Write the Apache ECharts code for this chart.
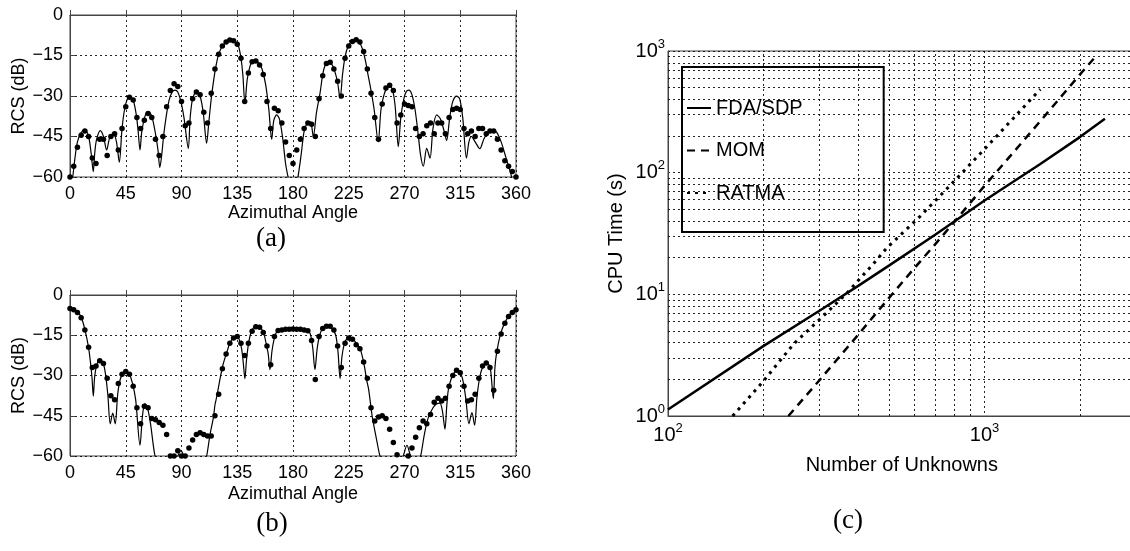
<!DOCTYPE html>
<html><head><meta charset="utf-8">
<script src="https://cdn.jsdelivr.net/npm/echarts@6/dist/echarts.min.js"></script>
<style>html,body{margin:0;padding:0;background:#fff}#c{width:1130px;height:551px}</style>
</head><body><div id="c"></div>
<script>
// ---------- data ----------
const dotAngles = [0,3,6,9,12,15,18,21,24,27,30,33,36,39,42,45,48,51,54,57,60,63,66,69,72,75,78,81,84,87,90,93,96,99,102,105,108,111,114,117,120,123,126,129,132,135,138,141,144,147,150,153,156,159,162,165,168,171,174,177,180,183,186,189,192,195,198,201,204,207,210,213,216,219,222,225,228,231,234,237,240,243,246,249,252,255,258,261,264,267,270,273,276,279,282,285,288,291,294,297,300,303,306,309,312,315,318,321,324,327,330,333,336,339,342,345,348,351,354,357,360];

const rcsADots = [-60,-56,-49,-44.5,-43,-45,-53,-55,-46,-46,-52,-45,-44,-50,-42,-34,-30.5,-31.5,-38,-42,-39,-36.5,-38,-46,-52,-45,-34,-28,-25.5,-26.5,-32,-41,-40,-31,-28.5,-29.5,-36,-40,-29,-20,-14.5,-11.5,-10,-9.3,-9.5,-10.8,-16,-32,-21.5,-17.3,-17,-18.5,-22,-32,-42,-34.5,-35.5,-40,-47,-52,-55,-50,-46,-42,-40,-40.5,-45,-31,-22.5,-18,-17.5,-20,-24.5,-30,-16,-11.5,-9.8,-9.2,-10,-13.5,-20,-29,-38,-46,-33,-27,-26,-28,-40,-37,-33,-33.5,-34,-42,-45,-44,-41,-40,-44,-40,-40,-44,-38,-35,-34.5,-35,-42,-44,-43,-45,-42,-42,-44,-43,-43,-46,-50,-54,-56,-58,-60];

const rcsBDots = [-5,-5.5,-6.5,-8.5,-13,-19.5,-27,-26.5,-24.5,-25.5,-31,-37.5,-39,-33,-29.5,-28.5,-29.5,-34,-42,-48,-41.5,-42,-46,-46.5,-47.5,-48.5,-52,-60,-60,-58,-60,-60,-57,-54,-52,-51.3,-52,-52.5,-52.5,-45,-37,-27.5,-22,-18,-16,-15.5,-18,-22.5,-18,-13.5,-11.8,-12,-14,-19,-26,-15.5,-13.2,-13,-12.8,-12.8,-12.7,-12.8,-12.8,-13,-13.3,-17,-31.5,-15.5,-12.5,-11.6,-11.6,-13,-19,-27,-18,-16,-16.5,-18.5,-20,-25,-31,-42,-47,-45.5,-45,-46,-50,-55,-59.5,-61,-61,-60,-57,-53,-49.5,-47,-48,-44.5,-40,-38.5,-39.5,-38.5,-34,-30,-28,-29,-34,-39.5,-39,-37,-31,-26.5,-25.3,-27,-35.5,-21,-14.5,-10.5,-8,-6.5,-5.5];

const rcsALine = [[1,-63],[2.2,-60],[4,-53],[6,-47],[9,-43.5],[12,-42.5],[15,-45],[17,-51],[18.8,-58],[20,-51],[21.5,-46],[24.5,-42.8],[27,-45],[29.6,-50],[32,-45.5],[35,-43.8],[37.5,-47],[39.8,-54.5],[42,-42],[44,-35],[46,-31.5],[48.4,-30.3],[51,-31.5],[53.5,-37],[55,-43],[56.5,-50],[58,-43],[61,-36.8],[63.2,-35.8],[66,-37.5],[69,-44],[71,-50],[72.5,-56.5],[74,-52],[75.5,-45],[77.5,-38],[80,-31.5],[82.5,-28.5],[84.7,-27.8],[87,-28.5],[89.5,-32],[92,-38],[95.5,-49.4],[97,-38],[99,-31],[102.2,-28.2],[105,-30],[107.5,-36],[110.3,-47.5],[112,-40],[114,-31],[116,-24],[118,-18.5],[120,-14.5],[123,-11.5],[127,-9.7],[130.5,-9.2],[134,-10],[136,-11.5],[138,-16],[139.5,-22],[141.2,-32.7],[143,-24],[145,-19.5],[147,-17.2],[149.3,-16.7],[152,-17.5],[155,-20],[158,-26],[160.5,-35],[162.8,-46],[164.5,-39],[166.8,-37],[169,-38.5],[171.5,-45],[174,-55],[176,-60],[178,-64],[182,-64],[184,-60],[186.5,-52],[189,-43],[191.5,-40],[193.7,-39.5],[195,-41],[196.4,-45],[199,-36],[201.8,-29],[204,-22],[206,-18.5],[208.5,-17.3],[211,-18],[213.5,-20.5],[216,-25],[218,-30.9],[220,-22],[222,-15.5],[224.5,-11.5],[227,-9.8],[230,-9.0],[233,-9.8],[236,-12.5],[238.5,-17],[240.5,-22],[243,-28],[245.5,-35],[248.8,-47],[251,-35],[253.5,-29.5],[256,-27],[258.3,-26.5],[260.5,-28],[262.5,-34],[265,-48.8],[267,-38],[269.5,-31],[271.5,-28.3],[273.5,-27.8],[276,-29.5],[278.5,-35],[281,-44],[283,-52],[285.2,-56],[287.9,-49.4],[290.6,-53],[293,-42],[296,-37],[299,-38.5],[302,-43],[304,-46.5],[306.5,-38],[309,-32],[312,-30],[314.5,-31],[317,-38],[320,-53],[322,-47],[324,-45],[327,-47],[330.8,-49.5],[334,-46],[338,-43],[341.7,-42.6],[344.5,-43.5],[348,-47],[352,-53],[356.5,-60],[358,-64]];

const rcsBLine = [[0,-5],[4,-5.8],[8.1,-7.4],[10,-9.5],[12.1,-13],[14.8,-19.1],[16.5,-25],[17.8,-31],[18.8,-37.7],[20,-30],[22,-25.5],[24.2,-24.2],[26.5,-25],[28.5,-29],[30.5,-37],[32.5,-48],[34.5,-44],[36.5,-48],[38.5,-37],[40.5,-31.5],[43,-29],[45.7,-28.5],[48,-29.5],[50.5,-33],[53,-39],[56.5,-56],[58.5,-45],[60.5,-40.5],[62.5,-42],[65,-48],[68.6,-60],[72,-64],[84,-63],[87,-60],[89.5,-58],[92,-60],[95,-63],[108,-63],[110.3,-60],[113,-52],[115.7,-45.8],[117,-41],[118.4,-38],[121,-31.5],[123.5,-26],[126.4,-21.6],[129,-18],[131.8,-16],[134.5,-15.4],[136.5,-16.5],[138.5,-20],[139.8,-25],[141.2,-31.2],[142.5,-24],[144.5,-17],[147,-13],[150.7,-11.5],[154,-12.3],[156.5,-14.5],[158.5,-18.5],[160,-22],[161.4,-27.8],[163,-21],[164.5,-17],[166.5,-14],[169.5,-13],[175,-12.8],[180.3,-12.7],[186,-12.8],[192.4,-13.3],[194.5,-15.5],[196,-20],[197.7,-27.8],[199.5,-20],[201.5,-15],[204,-12.5],[208.5,-11.5],[212,-12.7],[214.5,-15],[216.3,-21],[218,-31.2],[219.5,-23],[221.5,-18],[223.5,-16.3],[226,-16],[229,-16.8],[232,-18.5],[234,-19.8],[236,-23],[237.8,-27],[239.5,-31.8],[241,-35],[243.6,-44.2],[245,-48],[247.5,-54],[250.2,-60],[253,-63],[266,-63],[269,-60],[272,-56],[275,-60],[280,-63],[283,-60],[286,-52],[289,-46],[293,-42],[296,-40.5],[298.6,-40.3],[300.5,-43],[302.7,-50],[304,-42],[305.3,-35.6],[307.5,-31.5],[310,-29],[312.6,-28.3],[316,-30],[318,-34],[319.6,-39],[322,-48],[324.4,-43.8],[326.6,-48.5],[328.5,-38],[331,-30],[333.5,-26.5],[335.8,-25.1],[338,-25.8],[339.5,-28],[341.7,-38.6],[343,-27],[344.4,-21.4],[347.1,-15.2],[349,-12.5],[351,-10.3],[355,-7.2],[357.8,-6.3],[360,-5.6]];

const fdaN = [100,200,300,400,500,700,1000,1500,2000,2400];
const fdaT = [1.13,3.75,7.3,11.8,17.3,31,59,118,196,278];
const momN = [240,300,400,500,600,700,800,1000,1500,2000,2250];
const momT = [1.0,1.95,4.7,9.4,16.4,26,39,78,265,640,910];
const ratN = [160,198,250,303,367,446,490,627,798,1069,1500];
const ratT = [1.0,1.87,3.94,6.3,10.2,17.9,23.9,44,84,188,485];

const minorX = [200,300,400,500,600,700,800,900,2000];
const minorY = [2,3,4,5,6,7,8,9,20,30,40,50,60,70,80,90,200,300,400,500,600,700,800,900];

const seriesNames = ['FDA/SDP','MOM','RATMA'];
const captions = ['(a)','(b)','(c)'];
const rcsXName = 'Azimuthal Angle';
const rcsYName = 'RCS (dB)';
const cpuXName = 'Number of Unknowns';
const cpuYName = 'CPU Time (s)';

// ---------- chart ----------
const FONT = "'Liberation Sans', Arial, Helvetica, sans-serif";
const SERIF = "'Liberation Serif', 'DejaVu Serif', serif";
const chart = echarts.init(document.getElementById('c'), null, {renderer:'canvas'});
const gridLine = {show:true, lineStyle:{color:'#000', type:[2,3], width:1, opacity:0.85}};
const frame = {show:true, borderColor:'#444', borderWidth:1, backgroundColor:'transparent', containLabel:false, outerBoundsMode:'none'};
const minus = v => String(v).replace('-', '\u2212');

function rcsX(gi, gap){
  return {gridIndex:gi, type:'value', min:0, max:360, interval:45,
    name:rcsXName, nameLocation:'middle', nameGap:gap,
    nameTextStyle:{fontSize:18, color:'#000', fontFamily:FONT},
    axisLine:{show:true, lineStyle:{color:'#444'}},
    axisTick:{show:true, inside:true, length:5, lineStyle:{color:'#444'}},
    axisLabel:{fontSize:18, color:'#000', fontFamily:FONT, margin:8, showMinLabel:true, showMaxLabel:true},
    splitLine:gridLine};
}
function rcsY(gi){
  return {gridIndex:gi, type:'value', min:-60, max:0, interval:15,
    name:rcsYName, nameLocation:'middle', nameGap:42, nameRotate:90,
    nameTextStyle:{fontSize:18, color:'#000', fontFamily:FONT},
    axisLine:{show:true, lineStyle:{color:'#444'}},
    axisTick:{show:true, inside:true, length:5, lineStyle:{color:'#444'}},
    axisLabel:{fontSize:18, color:'#000', fontFamily:FONT, margin:7, formatter:minus, showMinLabel:true, showMaxLabel:true},
    splitLine:gridLine};
}
const isPow10 = v => Math.abs(Math.log10(v) - Math.round(Math.log10(v))) < 1e-6;
const powLabel = v => isPow10(v) ? '{b|10}{s|' + Math.round(Math.log10(v)) + '}' : '';
const powRich = {b:{fontSize:20, color:'#000', fontFamily:FONT}, s:{fontSize:13, color:'#000', fontFamily:FONT, padding:[0,0,14,0]}};

const option = {
  animation:false,
  backgroundColor:'#fff',
  color:['#000','#000','#000'],
  grid:[
    Object.assign({left:70, top:15, width:446, height:162}, frame),
    Object.assign({left:70, top:295, width:446, height:161}, frame),
    Object.assign({left:668, top:51, width:467.6, height:365}, frame)
  ],
  xAxis:[
    rcsX(0, 27), rcsX(1, 29),
    {gridIndex:2, type:'log', logBase:10, min:100, max:3000,
     name:cpuXName, nameLocation:'middle', nameGap:39,
     nameTextStyle:{fontSize:20, color:'#000', fontFamily:FONT},
     axisLine:{show:true, lineStyle:{color:'#444'}},
     axisTick:{show:false},
     axisLabel:{formatter:powLabel, rich:powRich, margin:6, showMinLabel:true, showMaxLabel:true},
     splitLine:gridLine}
  ],
  yAxis:[
    rcsY(0), rcsY(1),
    {gridIndex:2, type:'log', logBase:10, min:1, max:1000,
     name:cpuYName, nameLocation:'middle', nameGap:42, nameRotate:90,
     nameTextStyle:{fontSize:20, color:'#000', fontFamily:FONT},
     axisLine:{show:true, lineStyle:{color:'#444'}},
     axisTick:{show:false},
     axisLabel:{formatter:powLabel, rich:powRich, margin:3, showMinLabel:true, showMaxLabel:true},
     splitLine:gridLine}
  ],
  legend:{
    data:seriesNames, orient:'vertical', left:682, top:67,
    padding:[31,81,29,4], itemGap:22.5, itemWidth:24, itemHeight:14,
    borderColor:'#000', borderWidth:2, backgroundColor:'#fff',
    itemStyle:{opacity:0, color:'transparent', borderWidth:0},
    textStyle:{fontSize:20, color:'#000', fontFamily:FONT, lineHeight:20},
    selectedMode:false
  },
  series:[
    {type:'line', xAxisIndex:0, yAxisIndex:0, data:rcsALine, symbol:'none', smooth:0.3, clip:true, silent:true,
     lineStyle:{color:'#000', width:1.2}},
    {type:'scatter', xAxisIndex:0, yAxisIndex:0, data:dotAngles.map((a,i)=>[a, rcsADots[i]]), symbolSize:5.5, clip:true, silent:true,
     itemStyle:{color:'#000', opacity:1}},
    {type:'line', xAxisIndex:1, yAxisIndex:1, data:rcsBLine, symbol:'none', smooth:0.3, clip:true, silent:true,
     lineStyle:{color:'#000', width:1.2}},
    {type:'scatter', xAxisIndex:1, yAxisIndex:1, data:dotAngles.map((a,i)=>[a, rcsBDots[i]]), symbolSize:5.5, clip:true, silent:true,
     itemStyle:{color:'#000', opacity:1}},
    {type:'line', name:seriesNames[0], xAxisIndex:2, yAxisIndex:2, data:fdaN.map((n,i)=>[n, fdaT[i]]), symbol:'none', clip:true, silent:true,
     itemStyle:{color:'#000'}, lineStyle:{color:'#000', width:2.5},
     markLine:{silent:true, symbol:'none', label:{show:false}, animation:false,
       lineStyle:{color:'#000', type:[2,3], width:1, opacity:0.85},
       data:[...minorX.map(v=>({xAxis:v})), ...minorY.map(v=>({yAxis:v}))]}},
    {type:'line', name:seriesNames[1], xAxisIndex:2, yAxisIndex:2, data:momN.map((n,i)=>[n, momT[i]]), symbol:'none', clip:true, silent:true,
     itemStyle:{color:'#000'}, lineStyle:{color:'#000', width:2.5, type:[8,6]}},
    {type:'line', name:seriesNames[2], xAxisIndex:2, yAxisIndex:2, data:ratN.map((n,i)=>[n, ratT[i]]), symbol:'none', clip:true, silent:true,
     itemStyle:{color:'#000'}, lineStyle:{color:'#000', width:3, type:[3,5]}}
  ],
  graphic:[
    {type:'text', x:271, y:239, style:{text:captions[0], align:'center', verticalAlign:'middle', fontSize:27, fontFamily:SERIF, fill:'#000'}},
    {type:'text', x:272, y:524, style:{text:captions[1], align:'center', verticalAlign:'middle', fontSize:27, fontFamily:SERIF, fill:'#000'}},
    {type:'text', x:848, y:521, style:{text:captions[2], align:'center', verticalAlign:'middle', fontSize:27, fontFamily:SERIF, fill:'#000'}}
  ]
};
chart.setOption(option);
</script></body></html>
